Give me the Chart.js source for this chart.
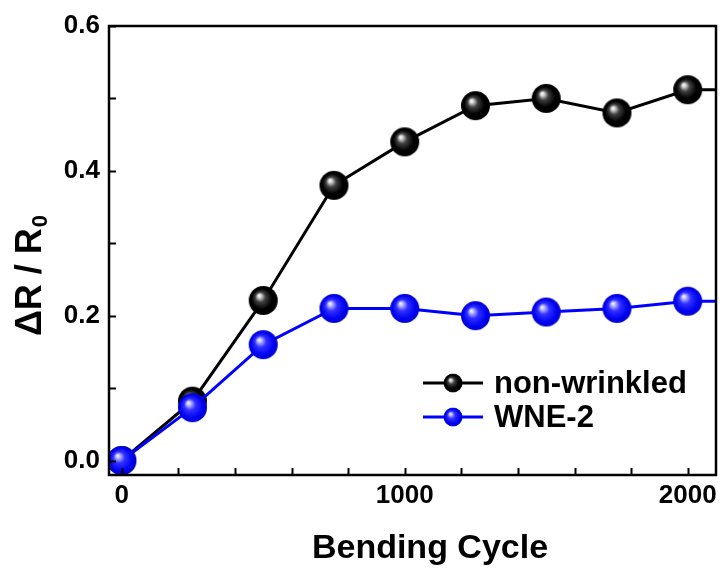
<!DOCTYPE html>
<html>
<head>
<meta charset="utf-8">
<script src="https://cdn.jsdelivr.net/npm/chart.js@4"></script>
<style>
  html, body { margin: 0; padding: 0; background: #fff; }
  #wrap { width: 723px; height: 569px; }
</style>
</head>
<body>
<div id="wrap"><canvas id="c" width="723" height="569"></canvas></div>
<script>
// bending cycles (last entry only carries the line out to the frame edge)
var cycles = [0, 250, 500, 750, 1000, 1250, 1500, 1750, 2000, 2250];
var nonWrinkled = [0.0, 0.082, 0.221, 0.38, 0.44, 0.49, 0.50, 0.48, 0.512, 0.512];
var wne2 = [0.0, 0.073, 0.16, 0.21, 0.21, 0.20, 0.205, 0.21, 0.22, 0.22];

var xMajor = [0, 1000, 2000];
var yMajor = [0.0, 0.2, 0.4, 0.6];
var xMinorStep = 200;
var yMinorStep = 0.1;

var FONT = 'Liberation Sans, Arial, sans-serif';

// shaded ball used as point marker
function ball(r, stops) {
  var c = document.createElement('canvas');
  c.width = c.height = r * 2 + 2;
  var g = c.getContext('2d');
  var cx = r + 1, cy = r + 1;
  var grad = g.createRadialGradient(cx - r * 0.3, cy - r * 0.35, 0, cx, cy, r);
  stops.forEach(function (s) { grad.addColorStop(s[0], s[1]); });
  g.fillStyle = grad;
  g.beginPath();
  g.arc(cx, cy, r, 0, Math.PI * 2);
  g.fill();
  return c;
}

var blackBall = ball(14.5, [[0, '#ffffff'], [0.12, '#d8d8d8'], [0.35, '#404040'], [0.7, '#000'], [1, '#000']]);
var blueBall = ball(14.5, [[0, '#ffffff'], [0.12, '#c8c8ff'], [0.4, '#3030ff'], [0.8, '#0000f0'], [1, '#0000d0']]);

function pts(arr) {
  return arr.map(function (v, i) { return { x: cycles[i], y: v }; });
}

// frame, inward ticks, axis titles and legend
var decor = {
  id: 'decor',
  afterDatasetsDraw: function (chart) {
    var ctx = chart.ctx, a = chart.chartArea;
    var xs = chart.scales.x, ys = chart.scales.y;
    ctx.save();
    ctx.strokeStyle = '#000';
    ctx.lineWidth = 2.5;
    ctx.strokeRect(a.left, a.top, a.right - a.left, a.bottom - a.top);

    ctx.lineWidth = 2;
    ctx.beginPath();
    for (var v = 0; v <= 2000; v += xMinorStep) {
      var px = Math.round(xs.getPixelForValue(v)) + 0.5;
      ctx.moveTo(px, a.bottom);
      ctx.lineTo(px, a.bottom - 7);
    }
    for (var k = 0; k <= 6; k++) {
      var py = Math.round(ys.getPixelForValue(k * yMinorStep)) + 0.5;
      ctx.moveTo(a.left, py);
      ctx.lineTo(a.left + 7, py);
    }
    ctx.stroke();

    // x title
    ctx.fillStyle = '#000';
    ctx.font = 'bold 34px ' + FONT;
    ctx.textAlign = 'center';
    ctx.textBaseline = 'alphabetic';
    ctx.fillText('Bending Cycle', 430, 558);

    // y title: ΔR / R0 with subscript
    ctx.translate(31, 276);
    ctx.rotate(-Math.PI / 2);
    ctx.font = 'bold 36px ' + FONT;
    var main = 'ΔR / R';
    var sub = '0';
    var wMain = ctx.measureText(main).width;
    ctx.font = 'bold 22px ' + FONT;
    var wSub = ctx.measureText(sub).width;
    var start = -(wMain + wSub) / 2;
    ctx.textBaseline = 'middle';
    ctx.textAlign = 'left';
    ctx.font = 'bold 36px ' + FONT;
    ctx.fillText(main, start, 0);
    ctx.font = 'bold 22px ' + FONT;
    ctx.fillText(sub, start + wMain + 1, 10);
    ctx.restore();

    // legend
    ctx.save();
    var items = [
      { label: 'non-wrinkled', color: '#000', img: blackBall, y: 383 },
      { label: 'WNE-2', color: '#0000ff', img: blueBall, y: 417 }
    ];
    items.forEach(function (it) {
      ctx.strokeStyle = it.color;
      ctx.lineWidth = 3;
      ctx.beginPath();
      ctx.moveTo(423, it.y);
      ctx.lineTo(483, it.y);
      ctx.stroke();
      ctx.drawImage(it.img, 453 - 10, it.y - 10, 20, 20);
      ctx.fillStyle = '#000';
      ctx.font = 'bold 31px ' + FONT;
      ctx.textBaseline = 'middle';
      ctx.textAlign = 'left';
      ctx.fillText(it.label, 494, it.y + 1);
    });
    ctx.restore();
  }
};

new Chart(document.getElementById('c'), {
  type: 'line',
  data: {
    datasets: [{
      label: 'WNE-2',
      data: pts(wne2),
      borderColor: '#0000ff',
      borderWidth: 3,
      pointStyle: blueBall,
      order: 0
    }, {
      label: 'non-wrinkled',
      data: pts(nonWrinkled),
      borderColor: '#000',
      borderWidth: 3,
      pointStyle: blackBall,
      order: 1
    }]
  },
  options: {
    responsive: false,
    animation: false,
    layout: { padding: { top: 26, right: 6, left: 0, bottom: 0 } },
    plugins: { legend: { display: false }, tooltip: { enabled: false } },
    scales: {
      x: {
        type: 'linear',
        min: -45,
        max: 2100,
        afterBuildTicks: function (s) { s.ticks = xMajor.map(function (v) { return { value: v }; }); },
        afterFit: function (s) { s.height = 94; },
        grid: { display: false, drawTicks: false },
        border: { display: false },
        ticks: {
          color: '#000',
          font: { family: FONT, size: 26, weight: 'bold' },
          padding: 5,
          maxRotation: 0,
          callback: function (v) { return String(v); }
        }
      },
      y: {
        min: -0.02,
        max: 0.6,
        afterBuildTicks: function (s) { s.ticks = yMajor.map(function (v) { return { value: v }; }); },
        afterFit: function (s) { s.width = 109; },
        grid: { display: false, drawTicks: false },
        border: { display: false },
        ticks: {
          color: '#000',
          font: { family: FONT, size: 26, weight: 'bold' },
          padding: 9,
          callback: function (v) { return Number(v).toFixed(1); }
        }
      }
    }
  },
  plugins: [decor]
});
</script>
</body>
</html>
